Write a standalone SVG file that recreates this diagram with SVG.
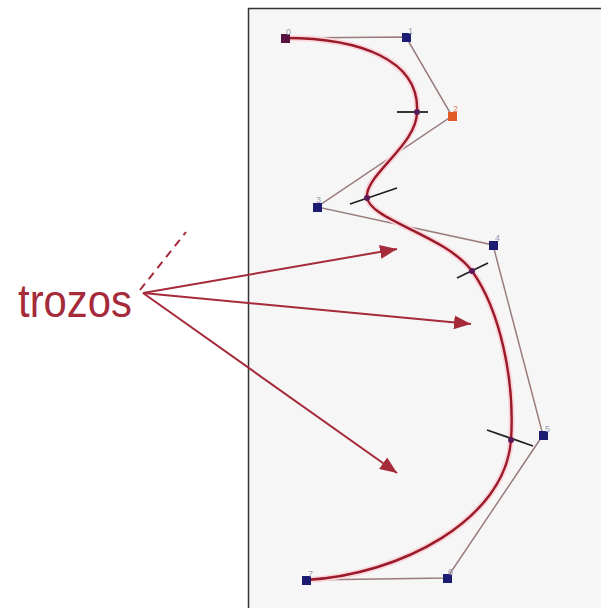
<svg xmlns="http://www.w3.org/2000/svg" width="601" height="608" viewBox="0 0 601 608">
<defs>
<style>
.poly{fill:none;stroke:#9a7c7c;stroke-width:1.5}
.halo{fill:none;stroke:#fad6da;stroke-width:6}
.curve{fill:none;stroke:#9a1a2a;stroke-width:2.4}
.tick{stroke:#222;stroke-width:1.8}
.pt{fill:#1c1c72}
.knot{fill:#5a1a5a}
.lbl{font-family:"Liberation Sans",Arial,sans-serif;font-size:9px;fill:#9a9ab0}
.arrow{stroke:#a52a3a;stroke-width:2;fill:none}
</style>
<marker id="ah2" viewBox="0 0 17 14" refX="17" refY="7" markerWidth="17" markerHeight="14" markerUnits="userSpaceOnUse" orient="auto">
<path d="M0,0 L17,7 L0,14 z" fill="#a52a3a"/>
</marker>
</defs>
<rect id="panel" x="248.5" y="8.5" width="360" height="610" fill="#f6f6f6" stroke="#333" stroke-width="1.5"/>
<g id="control-polygon">
<polyline class="poly" points="285,38 406,37 452,116 317,207 493,245 543,435 447,578 306,580"/>
</g>
<g id="spline">
<path class="halo" d="M285,38 C360,38 420,60 417,112 C417,145 365,175 367,197 C369,220 445,235 472,271 C500,310 515,380 511,440 C505,520 400,575 306,580"/>
<path class="curve" d="M285,38 C360,38 420,60 417,112 C417,145 365,175 367,197 C369,220 445,235 472,271 C500,310 515,380 511,440 C505,520 400,575 306,580"/>
</g>
<g id="ticks">
<line class="tick" x1="397" y1="112" x2="428" y2="112"/>
<line class="tick" x1="350" y1="204" x2="397" y2="188"/>
<line class="tick" x1="457" y1="278" x2="488" y2="263"/>
<line class="tick" x1="487" y1="430" x2="533" y2="446"/>
<circle class="knot" cx="417" cy="112" r="3"/>
<circle class="knot" cx="367" cy="198" r="3"/>
<circle class="knot" cx="472" cy="271" r="3"/>
<circle class="knot" cx="511" cy="440" r="3"/>
</g>
<g id="p0"><rect x="281" y="34" width="9" height="9" fill="#5a1040"/><text class="lbl" x="286" y="35">0</text></g>
<g id="p1"><rect class="pt" x="402" y="33" width="9" height="9"/><text class="lbl" x="408" y="34">1</text></g>
<g id="p2"><rect x="448" y="112" width="9" height="9" fill="#e05a28"/><text class="lbl" x="453" y="112" style="fill:#e08060">2</text></g>
<g id="p3"><rect class="pt" x="313" y="203" width="9" height="9"/><text class="lbl" x="316" y="203">3</text></g>
<g id="p4"><rect class="pt" x="489" y="241" width="9" height="9"/><text class="lbl" x="495" y="241">4</text></g>
<g id="p5"><rect class="pt" x="539" y="431" width="9" height="9"/><text class="lbl" x="545" y="432">5</text></g>
<g id="p6"><rect class="pt" x="443" y="574" width="9" height="9"/><text class="lbl" x="448" y="575">6</text></g>
<g id="p7"><rect class="pt" x="302" y="576" width="9" height="9"/><text class="lbl" x="308" y="577">7</text></g>
<g id="connectors">
<line class="arrow" x1="143" y1="293" x2="397" y2="249" marker-end="url(#ah2)"/>
<line class="arrow" x1="143" y1="293" x2="471" y2="324" marker-end="url(#ah2)"/>
<line class="arrow" x1="143" y1="293" x2="397" y2="473" marker-end="url(#ah2)"/>
<line x1="140" y1="290" x2="186" y2="232" stroke="#a52a3a" stroke-width="2" stroke-dasharray="8,6"/>
</g>
<g id="label">
<text x="18" y="317" font-family="'Liberation Sans',Arial,sans-serif" font-size="46" fill="#a52a3a" textLength="114" lengthAdjust="spacingAndGlyphs">trozos</text>
</g>
</svg>
